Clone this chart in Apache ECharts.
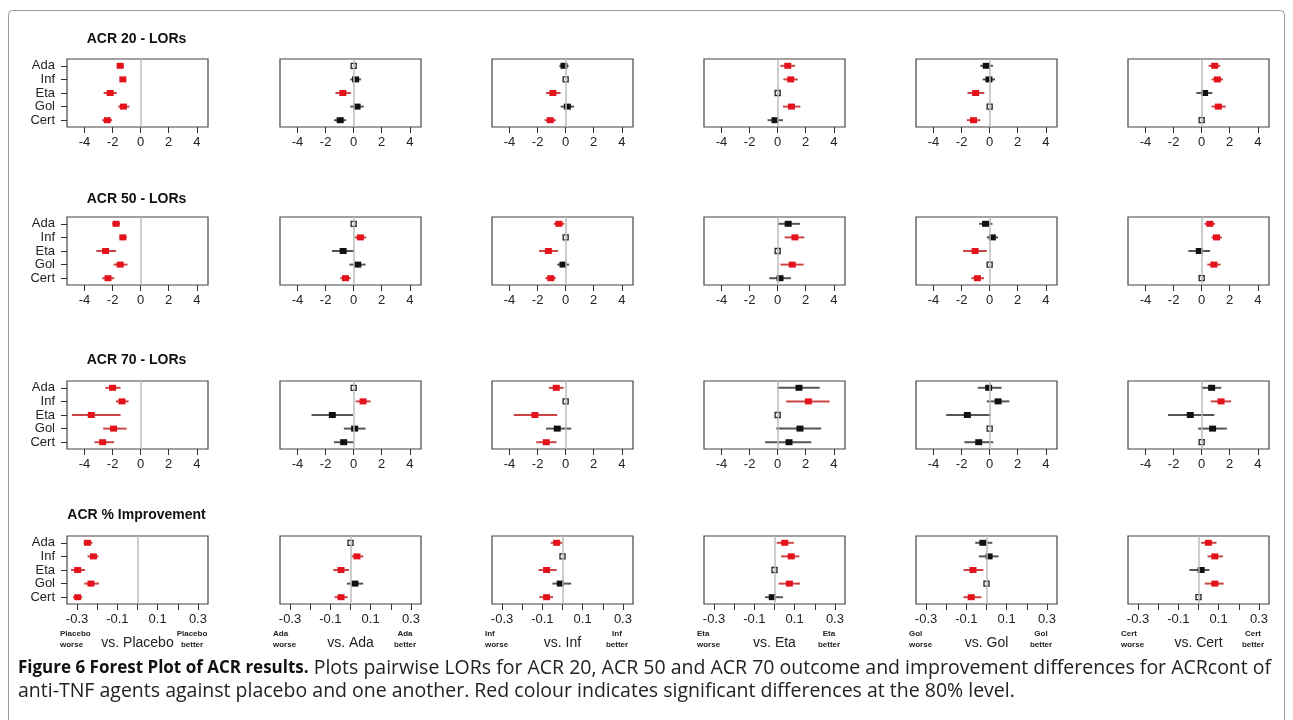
<!DOCTYPE html>
<html>
<head>
<meta charset="utf-8">
<script src="https://cdn.jsdelivr.net/npm/echarts@6/dist/echarts.min.js"></script>
<style>
  html, body { margin: 0; padding: 0; background: #fff; }
  #main { width: 1293px; height: 720px; }
</style>
</head>
<body>
<div id="main"></div>
<script>
// agents (rows of each panel) and comparators (columns)
const agents = ["Ada", "Inf", "Eta", "Gol", "Cert"];
const comparators = ["Placebo", "Ada", "Inf", "Eta", "Gol", "Cert"];
const rowTitles = ["ACR 20 - LORs", "ACR 50 - LORs", "ACR 70 - LORs", "ACR % Improvement"];
const lorTicks = [-4, -2, 0, 2, 4];
const pctTicks = [-0.3, -0.2, -0.1, 0, 0.1, 0.2, 0.3];
const pctLabels = [-0.3, -0.1, 0.1, 0.3];

// sig: 1 = significant (red), 0 = not (black), -1 = reference agent
const acr20Est = [
  [-1.46, -1.27, -2.17, -1.23, -2.38],
  [0, 0.14, -0.77, 0.24, -0.96],
  [-0.12, 0, -0.91, 0.12, -1.1],
  [0.72, 0.93, 0, 0.98, -0.19],
  [-0.24, -0.05, -1.0, 0, -1.15],
  [0.93, 1.12, 0.21, 1.19, 0]
];
const acr20Lo = [
  [-1.7, -1.46, -2.64, -1.6, -2.74],
  [null, -0.24, -1.3, -0.24, -1.4],
  [-0.45, null, -1.4, -0.36, -1.5],
  [0.19, 0.41, null, 0.38, -0.72],
  [-0.67, -0.5, -1.58, null, -1.63],
  [0.5, 0.71, -0.38, 0.71, null]
];
const acr20Hi = [
  [-1.2, -1.04, -1.7, -0.8, -2.03],
  [null, 0.53, -0.2, 0.72, -0.53],
  [0.21, null, -0.36, 0.6, -0.69],
  [1.24, 1.43, null, 1.62, 0.38],
  [0.24, 0.38, -0.38, null, -0.67],
  [1.33, 1.52, 0.76, 1.71, null]
];
const acr20Sig = [
  [1, 1, 1, 1, 1],
  [-1, 0, 1, 0, 0],
  [0, -1, 1, 0, 1],
  [1, 1, -1, 1, 0],
  [0, 0, 1, -1, 1],
  [1, 1, 0, 1, -1]
];

const acr50Est = [
  [-1.75, -1.27, -2.5, -1.46, -2.33],
  [0, 0.48, -0.75, 0.29, -0.58],
  [-0.48, 0, -1.23, -0.19, -1.06],
  [0.75, 1.23, 0, 1.04, 0.17],
  [-0.29, 0.19, -1.04, 0, -0.87],
  [0.58, 1.06, -0.17, 0.87, 0]
];
const acr50Lo = [
  [-2.03, -1.5, -3.16, -1.93, -2.74],
  [null, 0.05, -1.55, -0.3, -0.95],
  [-0.85, null, -1.9, -0.6, -1.45],
  [0.0, 0.5, null, 0.2, -0.6],
  [-0.75, -0.2, -1.9, null, -1.3],
  [0.2, 0.7, -0.95, 0.4, null]
];
const acr50Hi = [
  [-1.46, -0.99, -1.75, -0.94, -1.89],
  [null, 0.9, 0.05, 0.85, -0.2],
  [-0.1, null, -0.55, 0.25, -0.7],
  [1.6, 1.9, null, 1.85, 0.95],
  [0.2, 0.6, -0.2, null, -0.4],
  [0.95, 1.45, 0.6, 1.35, null]
];
const acr50Sig = [
  [1, 1, 1, 1, 1],
  [-1, 1, 0, 0, 1],
  [1, -1, 1, 0, 1],
  [0, 1, -1, 1, 0],
  [0, 0, 1, -1, 1],
  [1, 1, 0, 1, -1]
];

const acr70Est = [
  [-2.0, -1.33, -3.52, -1.93, -2.71],
  [0, 0.67, -1.52, 0.07, -0.71],
  [-0.67, 0, -2.19, -0.6, -1.38],
  [1.52, 2.19, 0, 1.59, 0.81],
  [-0.07, 0.6, -1.59, 0, -0.78],
  [0.71, 1.38, -0.81, 0.78, 0]
];
const acr70Lo = [
  [-2.52, -1.76, -4.9, -2.67, -3.29],
  [null, 0.15, -3.0, -0.7, -1.4],
  [-1.2, null, -3.7, -1.4, -2.1],
  [-0.05, 0.6, null, -0.1, -0.9],
  [-0.85, -0.2, -3.1, null, -1.8],
  [0.0, 0.65, -2.4, -0.25, null]
];
const acr70Hi = [
  [-1.43, -0.86, -1.43, -1.0, -1.9],
  [null, 1.2, -0.05, 0.85, 0.0],
  [-0.15, null, -0.6, 0.4, -0.65],
  [3.0, 3.7, null, 3.1, 2.4],
  [0.85, 1.4, 0.1, null, 0.25],
  [1.4, 2.1, 0.9, 1.8, null]
];
const acr70Sig = [
  [1, 1, 1, 1, 1],
  [-1, 1, 0, 0, 0],
  [1, -1, 1, 0, 1],
  [0, 1, -1, 0, 0],
  [0, 0, 0, -1, 0],
  [0, 1, 0, 0, -1]
];

const pctEst = [
  [-0.248, -0.219, -0.297, -0.231, -0.297],
  [0, 0.032, -0.047, 0.022, -0.047],
  [-0.029, 0, -0.079, -0.011, -0.079],
  [0.051, 0.083, 0, 0.074, -0.011],
  [-0.018, 0.013, -0.067, 0, -0.076],
  [0.049, 0.081, 0.013, 0.081, 0]
];
const pctLo = [
  [-0.268, -0.248, -0.33, -0.264, -0.32],
  [null, 0.004, -0.086, -0.018, -0.079],
  [-0.058, null, -0.119, -0.05, -0.115],
  [0.011, 0.033, null, 0.02, -0.047],
  [-0.056, -0.038, -0.114, null, -0.114],
  [0.013, 0.045, -0.045, 0.031, null]
];
const pctHi = [
  [-0.224, -0.194, -0.26, -0.191, -0.274],
  [null, 0.063, -0.007, 0.063, -0.014],
  [0.0, null, -0.029, 0.043, -0.047],
  [0.096, 0.123, null, 0.127, 0.042],
  [0.029, 0.06, -0.016, null, -0.025],
  [0.089, 0.121, 0.054, 0.125, null]
];
const pctSig = [
  [1, 1, 1, 1, 1],
  [-1, 1, 1, 0, 1],
  [1, -1, 1, 0, 1],
  [1, 1, -1, 1, 0],
  [0, 0, 1, -1, 1],
  [1, 1, 0, 1, -1]
];

const rows = [
  { est: acr20Est, lo: acr20Lo, hi: acr20Hi, sig: acr20Sig, pct: false },
  { est: acr50Est, lo: acr50Lo, hi: acr50Hi, sig: acr50Sig, pct: false },
  { est: acr70Est, lo: acr70Lo, hi: acr70Hi, sig: acr70Sig, pct: false },
  { est: pctEst, lo: pctLo, hi: pctHi, sig: pctSig, pct: true }
];

// layout
const panelLeft = [67, 280, 492, 704, 916, 1128];
const panelW = 141;
const rowTop = [59, 217, 381, 536];
const panelH = 68;
const titleY = [39, 199, 360, 515];
const FONT = "'Liberation Sans', Arial, sans-serif";
const CAPFONT = "'Open Sans', 'Liberation Sans', sans-serif";

function renderForest(params, api) {
  const est = api.value(0);
  const cat = api.value(1);
  const sig = api.value(4);
  const p = api.coord([est, cat]);
  if (sig < 0) {
    return {
      type: "rect",
      shape: { x: p[0] - 2.5, y: p[1] - 2.5, width: 5, height: 5 },
      style: { fill: "#fff", stroke: "#222", lineWidth: 1.3 }
    };
  }
  const a = api.coord([api.value(2), cat]);
  const b = api.coord([api.value(3), cat]);
  const red = sig === 1;
  return {
    type: "group",
    children: [
      {
        type: "line",
        shape: { x1: a[0], y1: a[1], x2: b[0], y2: b[1] },
        style: { stroke: red ? "#cc4444" : "#555", lineWidth: 2 }
      },
      {
        type: "rect",
        shape: { x: p[0] - 3.5, y: p[1] - 3, width: 7, height: 6 },
        style: { fill: red ? "#e3121b" : "#111" }
      }
    ]
  };
}

const grid = [], xAxis = [], yAxis = [], series = [], graphic = [];

rows.forEach((row, r) => {
  comparators.forEach((comp, c) => {
    const idx = grid.length;
    grid.push({
      left: panelLeft[c], top: rowTop[r], width: panelW, height: panelH,
      show: true, borderColor: "#444", borderWidth: 1.2, backgroundColor: "#fff"
    });
    xAxis.push({
      type: "value", gridIndex: idx,
      min: row.pct ? -0.35 : -5.25,
      max: row.pct ? 0.35 : 4.8,
      axisLine: { show: false, onZero: false },
      splitLine: { show: false },
      axisTick: { show: true, length: 6, lineStyle: { color: "#333" },
        customValues: row.pct ? pctTicks : lorTicks },
      axisLabel: { show: true, margin: 9, color: "#222", fontSize: 13, fontFamily: FONT,
        customValues: row.pct ? pctLabels : lorTicks,
        formatter: v => String(v) }
    });
    yAxis.push({
      type: "category", gridIndex: idx, data: agents, inverse: true,
      axisLine: { show: false, onZero: false },
      splitLine: { show: false },
      axisTick: { show: c === 0, interval: 0, alignWithLabel: true, length: 6,
        lineStyle: { color: "#333" } },
      axisLabel: { show: c === 0, interval: 0, margin: 12, color: "#222",
        fontSize: 13, fontFamily: FONT }
    });
    const data = agents.map((ag, i) =>
      [row.est[c][i], i, row.lo[c][i], row.hi[c][i], row.sig[c][i]]);
    series.push({
      type: "scatter", xAxisIndex: idx, yAxisIndex: idx,
      data: [[0, 0]], symbolSize: 0, silent: true, z: 1,
      markLine: {
        silent: true, symbol: "none", label: { show: false },
        lineStyle: { color: "#bdbdbd", width: 1.5, type: "solid" },
        data: [{ xAxis: 0 }]
      }
    });
    series.push({
      type: "custom", xAxisIndex: idx, yAxisIndex: idx,
      renderItem: renderForest, data: data, z: 3,
      encode: { x: 0, y: 1 }
    });

    if (row.pct) {
      const bx = panelLeft[c], by = rowTop[r] + panelH;
      graphic.push({
        type: "text", left: bx - 7, top: by + 24,
        style: { text: comp + "\nworse", font: "bold 8px " + FONT, fill: "#222", lineHeight: 11 }
      });
      graphic.push({
        type: "text", x: bx + panelW - 16, y: by + 24,
        style: { text: comp + "\nbetter", font: "bold 8px " + FONT, fill: "#222",
          lineHeight: 11, align: "center" }
      });
      graphic.push({
        type: "text", x: bx + panelW / 2, y: by + 39,
        style: { text: "vs. " + comp, font: "14px " + FONT, fill: "#222",
          align: "center", verticalAlign: "middle" }
      });
    }
  });
  graphic.push({
    type: "text", x: panelLeft[0] + panelW / 2 - 1, y: titleY[r],
    style: { text: rowTitles[r], font: "bold 14px " + FONT, fill: "#111",
      align: "center", verticalAlign: "middle" }
  });
});

// figure frame and caption
graphic.push({
  type: "rect", z: -1,
  shape: { x: 8.5, y: 10.5, width: 1276, height: 760, r: 4 },
  style: { fill: "none", stroke: "#999", lineWidth: 1 }
});
graphic.push({
  type: "text", left: 18, top: 657,
  style: {
    text: "{b|Figure 6 Forest Plot of ACR results.} Plots pairwise LORs for ACR 20, ACR 50 and ACR 70 outcome and improvement differences for ACRcont of\nanti-TNF agents against placebo and one another. Red colour indicates significant differences at the 80% level.",
    font: "19.5px " + CAPFONT, fill: "#222", lineHeight: 23,
    rich: { b: { font: "bold 17px " + CAPFONT, fill: "#111", lineHeight: 23 } }
  }
});

const chart = echarts.init(document.getElementById("main"));
chart.setOption({
  animation: false,
  grid: grid,
  xAxis: xAxis,
  yAxis: yAxis,
  series: series,
  graphic: graphic
});
</script>
</body>
</html>
